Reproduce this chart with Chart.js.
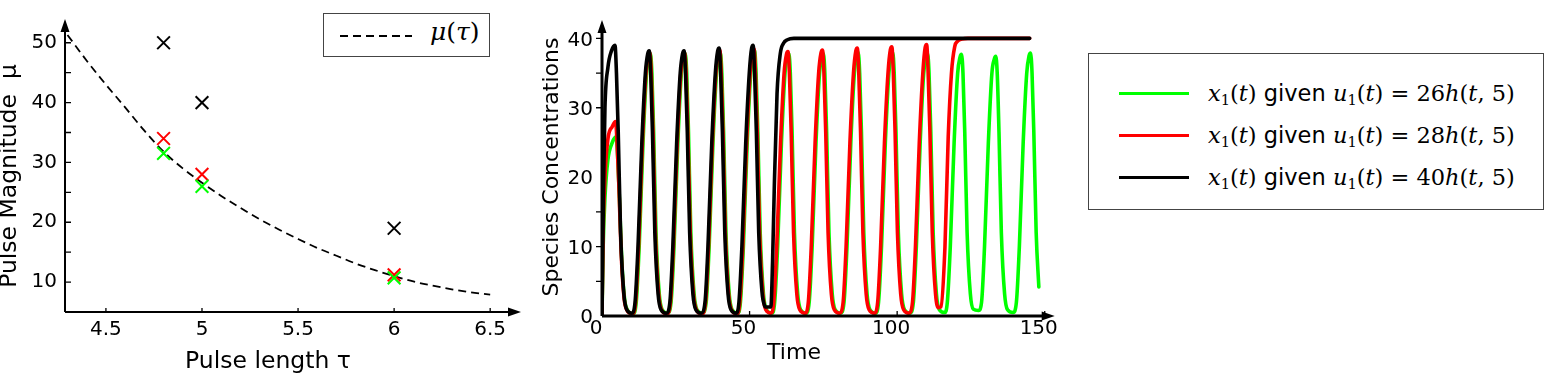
<!DOCTYPE html>
<html>
<head>
<meta charset="utf-8">
<script src="https://cdn.jsdelivr.net/npm/chart.js@4.4.1/dist/chart.umd.min.js"></script>
<style>
  body { margin: 0; background: #fff; width: 1545px; height: 374px; overflow: hidden; position: relative; font-family: "DejaVu Sans", sans-serif; }
  .panel { position: absolute; top: 0; height: 374px; }
  #leftWrap { left: 0; width: 530px; }
  #midWrap { left: 530px; width: 535px; }
  .box { position: absolute; border: 1.5px solid #444; background: #fff; box-sizing: border-box; }
  .row { position: absolute; left: 0; height: 30px; width: 100%; }
  .sample { position: absolute; left: 30px; top: 14px; width: 70px; height: 3px; }
  .label { position: absolute; left: 119px; top: 0; line-height: 30px; white-space: nowrap; font-size: 22.5px; }
  .m { font-family: "DejaVu Serif", serif; }
  .m i { font-style: italic; }
  .m sub { font-size: 65%; vertical-align: -0.3em; line-height: 0; }
  .sans { font-family: "DejaVu Sans", sans-serif; }
</style>
</head>
<body>
<div class="panel" id="leftWrap"><canvas id="pulseChart" width="530" height="374"></canvas></div>
<div class="panel" id="midWrap"><canvas id="timeChart" width="535" height="374"></canvas></div>

<div class="box" id="muLegend" style="left:323px; top:13px; width:167px; height:44px;">
  <svg style="position:absolute; left:16px; top:20px;" width="72" height="4">
    <line x1="0" y1="2" x2="72" y2="2" stroke="#000" stroke-width="1.8" stroke-dasharray="8,5"></line>
  </svg>
  <div class="m" style="position:absolute; left:106px; top:3px; font-size:25px; line-height:30px;"><i>&mu;</i>(<i>&tau;</i>)</div>
</div>

<div class="box" id="seriesLegend" style="left:1088px; top:53px; width:456px; height:157px;"></div>

<script>
// Left panel: pulse length vs magnitude
const tauPoints = [4.8, 5, 6];
const muBlack = [50, 40, 19];
const muRed = [34, 28, 11.2];
const muGreen = [31.5, 26, 10.7];

const tauCurve = [4.3, 4.4, 4.5, 4.6, 4.7, 4.8, 4.9, 5.0, 5.1, 5.2, 5.3, 5.4,
                  5.5, 5.6, 5.7, 5.8, 5.9, 6.0, 6.1, 6.2, 6.3, 6.4, 6.5];
const muCurve = [51.3, 47.0, 43.0, 39.2, 35.3, 31.8, 29.0, 26.6, 24.4, 22.4, 20.5, 18.8,
                 17.2, 15.7, 14.4, 13.1, 12.0, 11.0, 10.1, 9.4, 8.8, 8.3, 7.9];

const tauTicks = [4.5, 5, 5.5, 6, 6.5];
const muTicks = [10, 20, 30, 40, 50];
const muMarks = [10, 15, 20, 25, 30, 35, 40, 45, 50];

// Middle panel: x1(t) time courses
const greenT = [0, 0.4, 1, 2, 3.5, 4.8, 5.3, 5.9, 6.7, 7.7, 8.7, 10.5,
  11.6, 12.6, 13.9, 15.1, 15.9, 16.4, 16.9, 17.5, 18.3, 19.4, 20.4, 22.2,
  23.4, 24.4, 25.7, 26.9, 27.7, 28.2, 28.7, 29.3, 30.1, 31.2, 32.2, 34.0,
  35.3, 36.3, 37.6, 38.8, 39.6, 40.1, 40.6, 41.2, 42.0, 43.1, 44.1, 45.9,
  46.9, 47.9, 49.2, 50.4, 51.2, 51.7, 52.2, 52.8, 53.6, 54.7, 55.7, 57.5,
  58.5, 59.5, 60.8, 62.0, 62.8, 63.3, 63.8, 64.4, 65.2, 66.3, 67.3, 69.1,
  70.2, 71.2, 72.5, 73.7, 74.5, 75.0, 75.5, 76.1, 76.9, 78.0, 79.0, 80.8,
  82.0, 83.0, 84.3, 85.5, 86.3, 86.8, 87.3, 87.9, 88.7, 89.8, 90.8, 92.6,
  93.7, 94.7, 96.0, 97.2, 98.0, 98.5, 99.0, 99.6, 100.4, 101.5, 102.5, 104.3,
  105.5, 106.5, 107.8, 109.0, 109.8, 110.3, 110.8, 111.4, 112.2, 113.3, 114.3, 116.1,
  117.0, 118.0, 119.3, 120.5, 121.3, 121.8, 122.3, 122.9, 123.7, 124.8, 125.8, 127.6,
  128.6, 129.6, 130.9, 132.1, 132.9, 133.4, 133.9, 134.5, 135.3, 136.4, 137.4, 139.3,
  140.4, 141.4, 142.7, 143.9, 144.7, 145.2, 145.7, 146.3, 147.1, 148.0];
const greenX = [0, 10, 17, 22.5, 25, 25.8, 23, 17, 8, 2.3, 0.8, 0.3,
  2, 10, 25, 35, 37.4, 37.8, 35, 26.5, 12, 3.2, 0.9, 0.4,
  2, 10, 25, 35, 37.4, 37.8, 35, 26.5, 12, 3.2, 0.9, 0.4,
  2, 10, 25, 35, 37.6, 38.0, 35, 26.5, 12, 3.2, 0.9, 0.4,
  2, 10, 25, 35, 37.8, 38.2, 35, 26.5, 12, 3.2, 0.9, 0.4,
  2, 10, 25, 35, 37.4, 37.8, 35, 26.5, 12, 3.2, 0.9, 0.4,
  2, 10, 25, 35, 37.4, 37.8, 35, 26.5, 12, 3.2, 0.9, 0.4,
  2, 10, 25, 35, 37.6, 38.0, 35, 26.5, 12, 3.2, 0.9, 0.4,
  2, 10, 25, 35, 37.6, 38.0, 35, 26.5, 12, 3.2, 0.9, 0.4,
  2, 10, 25, 35, 37.4, 37.8, 35, 26.5, 12, 3.2, 0.9, 0.5,
  2, 10, 25, 35, 37.3, 37.7, 35, 26.5, 12, 3.2, 1.0, 0.8,
  2, 10, 25, 35, 37.0, 37.4, 35, 26.5, 12, 3.2, 0.9, 0.5,
  2, 10, 25, 35, 37.5, 37.9, 35, 26.5, 12, 4.2];

const redT = [0, 0.4, 1, 2, 3.5, 4.6, 5.1, 5.7, 6.5, 7.5, 8.5, 10.3,
  11.4, 12.4, 13.7, 14.9, 15.7, 16.2, 16.7, 17.3, 18.1, 19.2, 20.2, 22.0,
  23.2, 24.2, 25.5, 26.7, 27.5, 28.0, 28.5, 29.1, 29.9, 31.0, 32.0, 33.8,
  35.1, 36.1, 37.4, 38.6, 39.4, 39.9, 40.4, 41.0, 41.8, 42.9, 43.9, 45.7,
  46.7, 47.7, 49.0, 50.2, 51.0, 51.5, 52.0, 52.6, 53.4, 54.5, 55.5, 57.3,
  58.2, 59.2, 60.5, 61.7, 62.5, 63.0, 63.5, 64.1, 64.9, 66.0, 67.0, 68.8,
  69.9, 70.9, 72.2, 73.4, 74.2, 74.7, 75.2, 75.8, 76.6, 77.7, 78.7, 80.5,
  81.7, 82.7, 84.0, 85.2, 86.0, 86.5, 87.0, 87.6, 88.4, 89.5, 90.5, 92.3,
  93.4, 94.4, 95.7, 96.9, 97.7, 98.2, 98.7, 99.3, 100.1, 101.2, 102.2, 104.0,
  105.2, 106.2, 107.5, 108.7, 109.5, 110.0, 110.5, 111.1, 111.9, 113.0, 114.0, 114.8,
  116.2, 117.3, 118.4, 119.5, 120.5, 122, 124, 144.9];
const redX = [0, 12, 20, 25.5, 27.3, 28.0, 25, 19, 9, 2.5, 0.8, 0.3,
  2, 10, 25, 35, 37.6, 38.0, 35, 26.5, 12, 3.2, 0.9, 0.3,
  2, 10, 25, 35, 37.6, 38.0, 35, 26.5, 12, 3.2, 0.9, 0.3,
  2, 10, 25, 35, 37.9, 38.3, 35, 26.5, 12, 3.2, 0.9, 0.3,
  2, 10, 25, 35, 38.1, 38.5, 35, 26.5, 12, 3.2, 0.9, 0.4,
  2, 10, 25, 35, 37.7, 38.1, 35, 26.5, 12, 3.2, 0.9, 0.4,
  2, 10, 25, 35, 37.9, 38.3, 35, 26.5, 12, 3.2, 0.9, 0.4,
  2, 10, 25, 35, 38.2, 38.6, 35, 26.5, 12, 3.2, 0.9, 0.4,
  2, 10, 25, 35, 38.4, 38.8, 35, 26.5, 12, 3.2, 0.9, 0.4,
  2, 10, 25, 35, 38.7, 39.1, 35, 26.5, 12, 3.2, 1.2, 1.3,
  10, 25.8, 35, 38.8, 39.6, 39.9, 40, 40];

const blackT = [0, 0.5, 1, 2, 3.2, 4.4, 4.9, 5.5, 6.3, 7.4, 8.4, 10.1,
  11.2, 12.2, 13.5, 14.7, 15.5, 16.0, 16.5, 17.1, 17.9, 19.0, 20.0, 21.8,
  23.0, 24.0, 25.3, 26.5, 27.3, 27.8, 28.3, 28.9, 29.7, 30.8, 31.8, 33.6,
  34.9, 35.9, 37.2, 38.4, 39.2, 39.7, 40.2, 40.8, 41.6, 42.7, 43.7, 45.5,
  46.4, 47.4, 48.7, 49.9, 50.7, 51.2, 51.7, 52.3, 53.1, 54.2, 55.0, 55.6, 57.2,
  57.8, 58.4, 59.3, 60.4, 61.5, 62.8, 65, 144.9];
const blackX = [0, 18, 30, 35.8, 38.2, 39.0, 35, 26.5, 12, 3.2, 0.9, 0.4,
  2, 10, 25, 35, 37.8, 38.2, 35, 26.5, 12, 3.2, 0.9, 0.4,
  2, 10, 25, 35, 37.8, 38.2, 35, 26.5, 12, 3.2, 0.9, 0.4,
  2, 10, 25, 35, 38.2, 38.6, 35, 26.5, 12, 3.2, 0.9, 0.4,
  2, 10, 25, 35, 38.6, 39.0, 35, 26.5, 12, 3.5, 1.6, 1.3, 1.3,
  8, 19, 32, 37.8, 39.3, 39.8, 40, 40];

const timeTicks = [0, 50, 100, 150];
const concTicks = [0, 10, 20, 30, 40];
const concMarks = [5, 10, 15, 30, 35, 40];
const timeMarks = [50, 100, 150];

const inputAmps = [26, 28, 40];
const seriesColors = ['#00ff00', '#ff0000', '#000000'];

const toPoints = (xs, ys) => xs.map((x, i) => ({ x: x, y: ys[i] }));

// draws arrowed axes, small ticks and axis titles
const axisDecor = {
  id: 'axisDecor',
  afterDatasetsDraw(chart, args, opts) {
    const { ctx, chartArea: a, scales } = chart;
    ctx.save();
    ctx.strokeStyle = '#000';
    ctx.fillStyle = '#000';
    ctx.lineWidth = opts.axisWidth;
    ctx.beginPath();
    ctx.moveTo(a.left, a.bottom);
    ctx.lineTo(a.left, a.top + 8);
    ctx.moveTo(a.left, a.bottom);
    ctx.lineTo(a.right - 8, a.bottom);
    ctx.stroke();
    // arrow heads
    ctx.beginPath();
    ctx.moveTo(a.left, a.top - 1);
    ctx.lineTo(a.left - 4.5, a.top + 12);
    ctx.lineTo(a.left + 4.5, a.top + 12);
    ctx.closePath();
    ctx.moveTo(a.right + 2, a.bottom);
    ctx.lineTo(a.right - 11, a.bottom - 4.5);
    ctx.lineTo(a.right - 11, a.bottom + 4.5);
    ctx.closePath();
    ctx.fill();
    // ticks
    ctx.lineWidth = 1.3;
    ctx.beginPath();
    (opts.yMarks || []).forEach(v => {
      const py = scales.y.getPixelForValue(v);
      ctx.moveTo(a.left + opts.yTickFrom, py);
      ctx.lineTo(a.left + opts.yTickTo, py);
    });
    (opts.xMarks || []).forEach(v => {
      const px = scales.x.getPixelForValue(v);
      ctx.moveTo(px, a.bottom);
      ctx.lineTo(px, a.bottom - opts.xTickLen);
    });
    ctx.stroke();
    // titles
    ctx.textAlign = 'center';
    ctx.textBaseline = 'middle';
    ctx.font = opts.titleSize + 'px "DejaVu Sans"';
    ctx.fillText(opts.xTitle, opts.xTitlePos[0], opts.xTitlePos[1]);
    ctx.translate(opts.yTitlePos[0], opts.yTitlePos[1]);
    ctx.rotate(-Math.PI / 2);
    ctx.fillText(opts.yTitle, 0, 0);
    ctx.restore();
  }
};

const tickFont = { family: 'DejaVu Sans', size: 20 };
const noGrid = { display: false, drawTicks: false };

new Chart(document.getElementById('pulseChart'), {
  data: {
    datasets: [
      { type: 'scatter', data: toPoints(tauPoints, muGreen), pointStyle: 'crossRot', pointRadius: 9,
        pointBorderWidth: 2, borderColor: seriesColors[0], backgroundColor: seriesColors[0], order: 1 },
      { type: 'scatter', data: toPoints(tauPoints, muRed), pointStyle: 'crossRot', pointRadius: 9,
        pointBorderWidth: 2, borderColor: seriesColors[1], backgroundColor: seriesColors[1], order: 2 },
      { type: 'scatter', data: toPoints(tauPoints, muBlack), pointStyle: 'crossRot', pointRadius: 9,
        pointBorderWidth: 2, borderColor: seriesColors[2], backgroundColor: seriesColors[2], order: 3 },
      { type: 'line', data: toPoints(tauCurve, muCurve), borderColor: '#000', borderWidth: 1.8,
        borderDash: [8, 5], pointRadius: 0, cubicInterpolationMode: 'monotone', fill: false, order: 4 }
    ]
  },
  options: {
    responsive: false,
    animation: false,
    devicePixelRatio: 1,
    layout: { padding: { top: 2, right: 10, left: 0, bottom: 0 } },
    plugins: {
      legend: { display: false },
      tooltip: { enabled: false },
      axisDecor: {
        axisWidth: 2, yMarks: muMarks, yTickFrom: 0, yTickTo: 6, xMarks: tauTicks, xTickLen: 4,
        titleSize: 23.5,
        xTitle: 'Pulse length \u03c4', xTitlePos: [268, 362],
        yTitle: 'Pulse Magnitude  \u03bc', yTitlePos: [10, 176]
      }
    },
    scales: {
      x: {
        type: 'linear', min: 4.287, max: 6.65,
        afterBuildTicks: s => { s.ticks = tauTicks.map(v => ({ value: v })); },
        afterFit: s => { s.height = 62; },
        grid: noGrid, border: { display: false },
        ticks: { font: tickFont, color: '#000', padding: 6, maxRotation: 0, autoSkip: false,
                 callback: v => String(v) }
      },
      y: {
        type: 'linear', min: 5, max: 53.8,
        afterBuildTicks: s => { s.ticks = muTicks.map(v => ({ value: v })); },
        afterFit: s => { s.width = 65; },
        grid: noGrid, border: { display: false },
        ticks: { font: tickFont, color: '#000', padding: 8, callback: v => String(v) }
      }
    }
  },
  plugins: [axisDecor]
});

new Chart(document.getElementById('timeChart'), {
  type: 'line',
  data: {
    datasets: [
      { data: toPoints(blackT, blackX), borderColor: seriesColors[2], order: 1 },
      { data: toPoints(redT, redX), borderColor: seriesColors[1], order: 2 },
      { data: toPoints(greenT, greenX), borderColor: seriesColors[0], order: 3 }
    ].map(d => Object.assign(d, {
      borderWidth: 3.6, pointRadius: 0, fill: false, cubicInterpolationMode: 'monotone',
      borderJoinStyle: 'round', borderCapStyle: 'round'
    }))
  },
  options: {
    responsive: false,
    animation: false,
    devicePixelRatio: 1,
    layout: { padding: { top: 4.5, right: 10, left: 0, bottom: 0 } },
    plugins: {
      legend: { display: false },
      tooltip: { enabled: false },
      axisDecor: {
        axisWidth: 3, yMarks: concMarks, yTickFrom: -6, yTickTo: 0, xMarks: timeMarks, xTickLen: 5,
        titleSize: 22,
        xTitle: 'Time', xTitlePos: [264, 353],
        yTitle: 'Species Concentrations', yTitlePos: [22, 167]
      }
    },
    scales: {
      x: {
        type: 'linear', min: 0, max: 152.7,
        afterBuildTicks: s => { s.ticks = timeTicks.map(v => ({ value: v })); },
        afterFit: s => { s.height = 58; },
        grid: noGrid, border: { display: false },
        ticks: { font: tickFont, color: '#000', padding: 1, labelOffset: -6, maxRotation: 0,
                 autoSkip: false, callback: v => String(v) }
      },
      y: {
        type: 'linear', min: 0, max: 42.5,
        afterBuildTicks: s => { s.ticks = concTicks.map(v => ({ value: v })); },
        afterFit: s => { s.width = 72; },
        grid: noGrid, border: { display: false },
        ticks: { font: tickFont, color: '#000', padding: 9, labelOffset: 2, callback: v => String(v) }
      }
    }
  },
  plugins: [axisDecor]
});

// Legend for the time courses
const legendBox = document.getElementById('seriesLegend');
legendBox.innerHTML = inputAmps.map((amp, i) => `
  <div class="row" style="top:${24 + i * 42}px;">
    <div class="sample" style="background:${seriesColors[i]};"></div>
    <div class="label m"><i>x</i><sub>1</sub>(<i>t</i>) <span class="sans">given</span> <i>u</i><sub>1</sub>(<i>t</i>) = ${amp}<i>h</i>(<i>t</i>, 5)</div>
  </div>`).join('');
</script>
</body>
</html>
